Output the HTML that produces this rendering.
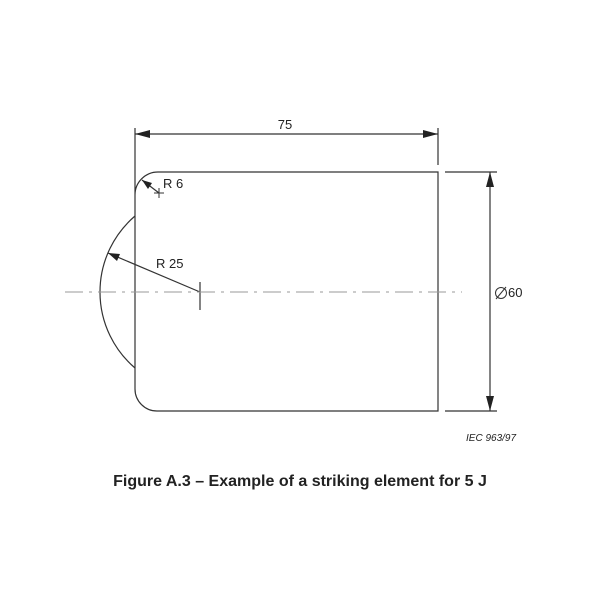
<!DOCTYPE html>
<html><head><meta charset="utf-8"><style>
body{margin:0;background:#fff;}
svg{display:block;}
text{font-family:"Liberation Sans",sans-serif;fill:#222;}
</style></head><body>
<svg width="600" height="600" viewBox="0 0 600 600">
<g stroke="#333" stroke-width="1.2" fill="none">
<path d="M135 128 V389 A22 22 0 0 0 157 411 H438 V172 H158 A23 23 0 0 0 135 195"/>
<path d="M135 216 A100 100 0 0 0 135 368"/>
<line x1="438" y1="128" x2="438" y2="165"/>
<line x1="135" y1="134" x2="438" y2="134"/>
<line x1="490" y1="172" x2="490" y2="411"/>
<line x1="445" y1="172" x2="497" y2="172"/>
<line x1="445" y1="411" x2="497" y2="411"/>
<line x1="200" y1="292" x2="108" y2="253"/>
<line x1="200" y1="282" x2="200" y2="310"/>
<line x1="154" y1="193" x2="164" y2="193" stroke-width="1"/>
<line x1="159" y1="188" x2="159" y2="198" stroke-width="1"/>
<line x1="159" y1="193" x2="142" y2="180"/>
<circle cx="501" cy="293" r="5.5" stroke-width="1"/>
<line x1="496" y1="299" x2="506" y2="287" stroke-width="1"/>
</g>
<line x1="65" y1="292" x2="462" y2="292" stroke="#999" stroke-width="1" stroke-dasharray="18,6,3,6"/>
<g fill="#222">
<polygon points="135,134 150,130 150,138"/>
<polygon points="438,134 423,130 423,138"/>
<polygon points="490,172 486,187 494,187"/>
<polygon points="490,411 486,396 494,396"/>
<polygon points="108,253 120,254 117,261"/>
<polygon points="142,180 152,183 148,189"/>
</g>
<text x="285" y="129" font-size="13" text-anchor="middle">75</text>
<text x="163" y="188" font-size="13">R 6</text>
<text x="156" y="268" font-size="13">R 25</text>
<text x="508" y="297" font-size="13">60</text>
<text x="466" y="441" font-size="10" font-style="italic">IEC   963/97</text>
<text x="300" y="486" font-size="16" font-weight="bold" text-anchor="middle">Figure A.3 – Example of a striking element for 5 J</text>
</svg>
</body></html>
